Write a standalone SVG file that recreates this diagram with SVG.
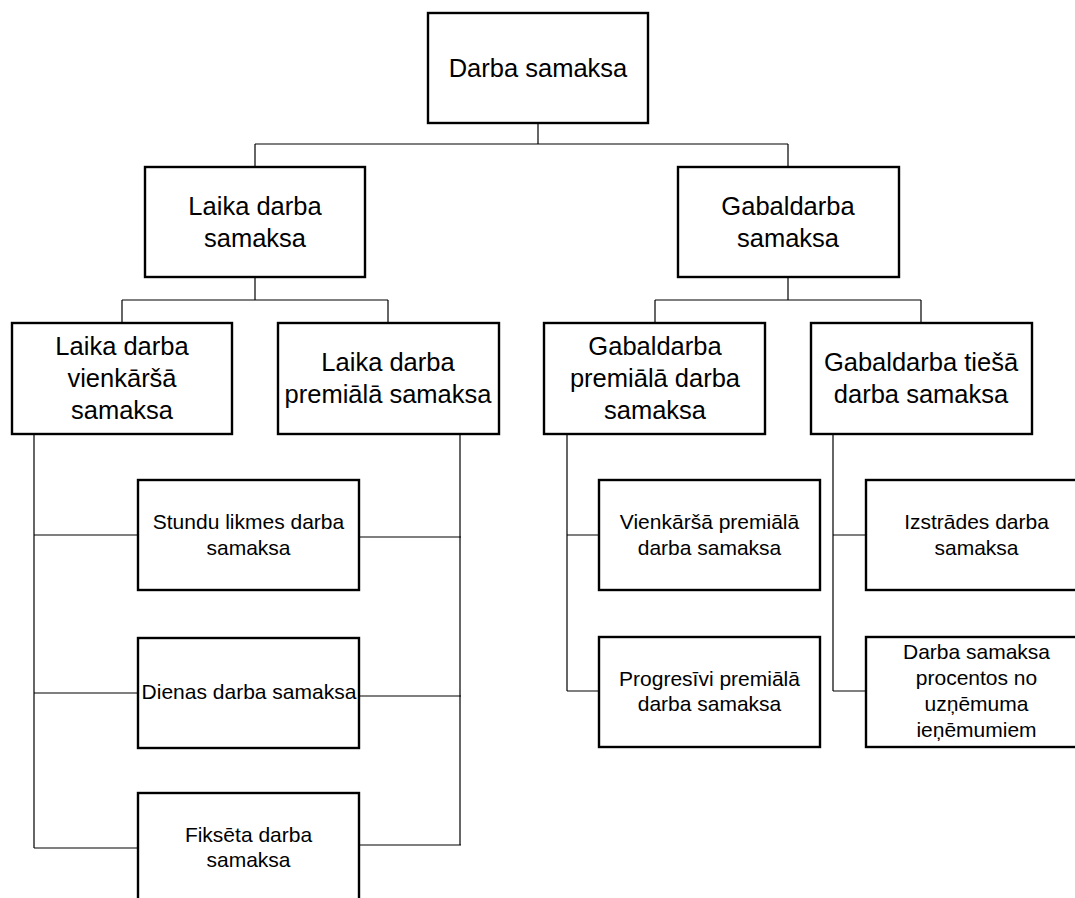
<svg xmlns="http://www.w3.org/2000/svg" width="1075" height="898" viewBox="0 0 1075 898">
<style>
.box{fill:#fff;stroke:#000;stroke-width:2.4}
.c{fill:none;stroke:#000;stroke-width:1.2}
text{font-family:"Liberation Sans",Arial,sans-serif;fill:#000;text-anchor:middle}
.l{font-size:25.5px}
.s{font-size:21px}
</style>
<rect width="1075" height="898" fill="#fff"/>
<g id="connectors">
<path class="c" d="M538 123V144M255 144H788M255 144V167M788 144V167"/>
<path class="c" d="M255 277V300M122 300H388M122 300V323M388 300V323"/>
<path class="c" d="M788 277V300M655 300H921M655 300V323M921 300V323"/>
<path class="c" d="M34 434V848M34 535H138M34 693H138M34 848H138"/>
<path class="c" d="M460 434V845M357 537H461M357 696H461M354 845H461"/>
<path class="c" d="M567 434V691M567 535H599M567 691H599"/>
<path class="c" d="M833 434V691M833 535H866M833 691H866"/>
</g>
<g id="n-root"><rect class="box" x="428" y="13" width="220" height="110"/><text class="l" x="538" y="77">Darba samaksa</text></g>
<g id="n-laika"><rect class="box" x="145" y="167" width="220" height="110"/><text class="l" x="255" y="215">Laika darba</text><text class="l" x="255" y="247">samaksa</text></g>
<g id="n-gabal"><rect class="box" x="678" y="167" width="221" height="110"/><text class="l" x="788" y="215">Gabaldarba</text><text class="l" x="788" y="247">samaksa</text></g>
<g id="n-laika-vienk"><rect class="box" x="12" y="323" width="220" height="111"/><text class="l" x="122" y="355">Laika darba</text><text class="l" x="122" y="387">vienkāršā</text><text class="l" x="122" y="419">samaksa</text></g>
<g id="n-laika-prem"><rect class="box" x="278" y="323" width="221" height="111"/><text class="l" x="388" y="371">Laika darba</text><text class="l" x="388" y="403">premiālā samaksa</text></g>
<g id="n-gabal-prem"><rect class="box" x="544" y="323" width="221" height="111"/><text class="l" x="655" y="355">Gabaldarba</text><text class="l" x="655" y="387">premiālā darba</text><text class="l" x="655" y="419">samaksa</text></g>
<g id="n-gabal-ties"><rect class="box" x="811" y="323" width="221" height="111"/><text class="l" x="921" y="371">Gabaldarba tiešā</text><text class="l" x="921" y="403">darba samaksa</text></g>
<g id="n-stundu"><rect class="box" x="138" y="480" width="221" height="110"/><text class="s" x="248.5" y="529">Stundu likmes darba</text><text class="s" x="248.5" y="555">samaksa</text></g>
<g id="n-dienas"><rect class="box" x="138" y="638" width="221" height="110"/><text class="s" x="249" y="699">Dienas darba samaksa</text></g>
<g id="n-fikseta"><rect class="box" x="138" y="793" width="221" height="110"/><text class="s" x="248.5" y="842">Fiksēta darba</text><text class="s" x="248.5" y="867">samaksa</text></g>
<g id="n-vienk-prem"><rect class="box" x="599" y="480" width="221" height="110"/><text class="s" x="709.5" y="529">Vienkāršā premiālā</text><text class="s" x="709.5" y="555">darba samaksa</text></g>
<g id="n-progres"><rect class="box" x="599" y="637" width="221" height="110"/><text class="s" x="709.5" y="686">Progresīvi premiālā</text><text class="s" x="709.5" y="711">darba samaksa</text></g>
<g id="n-izstrades"><rect class="box" x="866" y="480" width="221" height="110"/><text class="s" x="976.5" y="529">Izstrādes darba</text><text class="s" x="976.5" y="555">samaksa</text></g>
<g id="n-procent"><rect class="box" x="866" y="637" width="221" height="110"/><text class="s" x="976.5" y="659">Darba samaksa</text><text class="s" x="976.5" y="685">procentos no</text><text class="s" x="976.5" y="711">uzņēmuma</text><text class="s" x="976.5" y="737">ieņēmumiem</text></g>
</svg>
